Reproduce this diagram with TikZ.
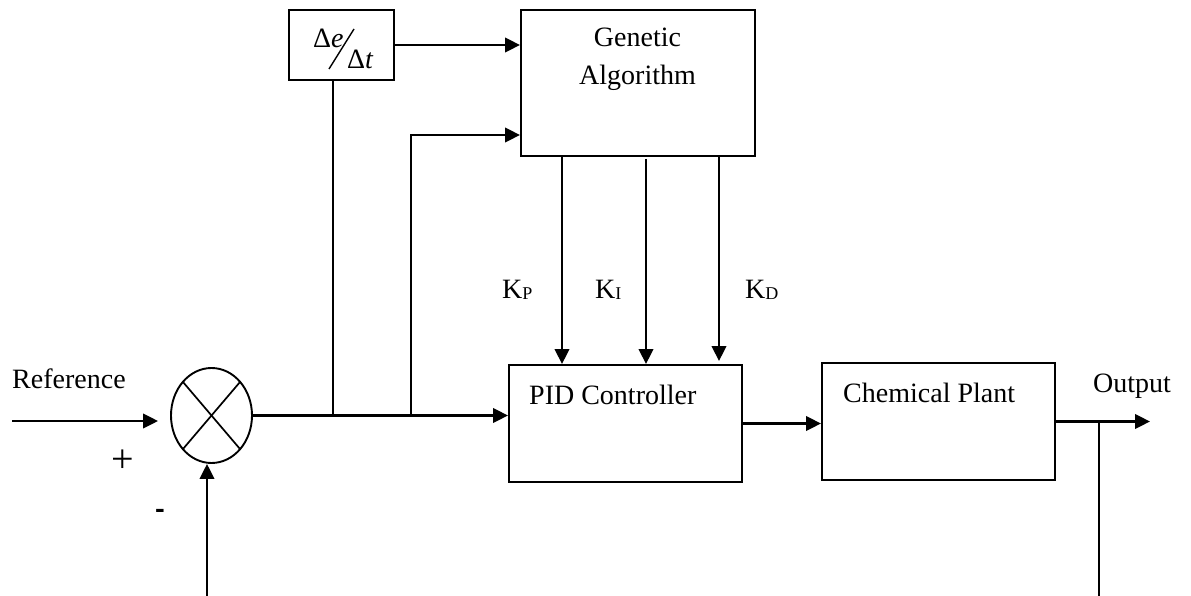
\documentclass[tikz,border=0pt]{standalone}
\usepackage{fontspec}
\setmainfont{Liberation Serif}
\newfontfamily\signfont{Carlito}
\usetikzlibrary{arrows.meta,shapes.geometric,calc}
\begin{document}
\begin{tikzpicture}[x=1pt,y=-1pt,
  blk/.style={draw,line width=2pt,rectangle,inner sep=0pt},
  lbl/.style={inner sep=0pt,font=\fontsize{28}{34}\selectfont},
  wire/.style={line width=2.3pt},
  thinwire/.style={line width=1.7pt},
  arr/.style={wire,-{Triangle[length=15pt,width=14.5pt]}},
]
\useasboundingbox (0,0) rectangle (1191,596);

% blocks
\node[blk,minimum width=105pt,minimum height=70pt] (de) at (341.5,45) {};
\node[blk,minimum width=234pt,minimum height=146pt] (ga) at (638,83) {};
\node[blk,minimum width=233pt,minimum height=117pt] (pid) at (625.5,423.5) {};
\node[blk,minimum width=233pt,minimum height=117pt] (cp) at (938.5,421.5) {};
\node[draw,ellipse,line width=1.9pt,minimum width=81pt,minimum height=95pt,inner sep=0pt] (sum) at (211.5,415.5) {};

% summing junction cross
\draw[line width=1.7pt] ($(sum.center)+(-28.6,-33.6)$) -- ($(sum.center)+(28.6,33.6)$);
\draw[line width=1.7pt] ($(sum.center)+(-28.6,33.6)$) -- ($(sum.center)+(28.6,-33.6)$);

% texts
\node[lbl,anchor=base west] (deltae) at (313,48) {Δ\textit{e}};
\node[lbl,anchor=base west] (deltat) at (347,69) {Δ\textit{t}};
\draw[line width=1.4pt] (329,69) -- (354,29);
\node[lbl,anchor=north,align=center,font=\fontsize{28}{38}\selectfont] (gatext) at (637.5,28) {Genetic\\Algorithm};
\node[lbl,anchor=base west] (pidtext) at (529,404) {PID Controller};
\node[lbl,anchor=base west] (cptext) at (843,402) {Chemical Plant};
\node[lbl,anchor=base west] (reftext) at (12,388) {Reference};
\node[lbl,anchor=base west] (outtext) at (1093,392) {Output};
\node[lbl,anchor=base west] (kp) at (502,298) {K\raisebox{-1.5pt}{\fontsize{18}{18}\selectfont P}};
\node[lbl,anchor=base west] (ki) at (595,298) {K\raisebox{-1.5pt}{\fontsize{18}{18}\selectfont I}};
\node[lbl,anchor=base west] (kd) at (745,298) {K\raisebox{-1.5pt}{\fontsize{18}{18}\selectfont D}};
\node[inner sep=0pt,font=\fontsize{40}{40}\selectfont] (plus) at (122.5,461) {+};
\node[inner sep=0pt,font=\signfont\bfseries\fontsize{30}{30}\selectfont] (minus) at (160,514.5) {-};

% coordinates
\coordinate (in) at (12,421);
\coordinate (b1) at (333,415.5);
\coordinate (b2) at (411,415.5);
\coordinate (out) at (1150,421.5);
\coordinate (fbtap) at (1099,421.5);
\coordinate (fbend) at (1099,596);
\coordinate (fbstart) at (207,596);

% connectors
\draw[arr] (in) -- (in -| sum.west) [shorten >=12pt];
\draw[arr] (sum.east) -- (sum.east -| pid.west);
\draw[thinwire] (b1) -- (b1 |- de.south);
\draw[arr] (b2) |- ($(ga.west)+(0,52)$);
\draw[arr] (de.east) -- (de.east -| ga.west);
\draw[arr] ($(ga.south west)+(42,0)$) -- ($(pid.north west)+(54,0)$);
\draw[arr] ($(ga.south west)+(126,2)$) -- ($(pid.north west)+(138,0)$);
\draw[arr] ($(ga.south west)+(199,0)$) -- ($(pid.north west)+(211,-3)$);
\draw[arr] (pid.east) -- (pid.east -| cp.west);
\draw[arr] (cp.east) -- (out);
\draw[thinwire] (fbtap) -- (fbend);
\draw[arr] (fbstart) -- (fbstart |- sum.south);
\end{tikzpicture}
\end{document}
